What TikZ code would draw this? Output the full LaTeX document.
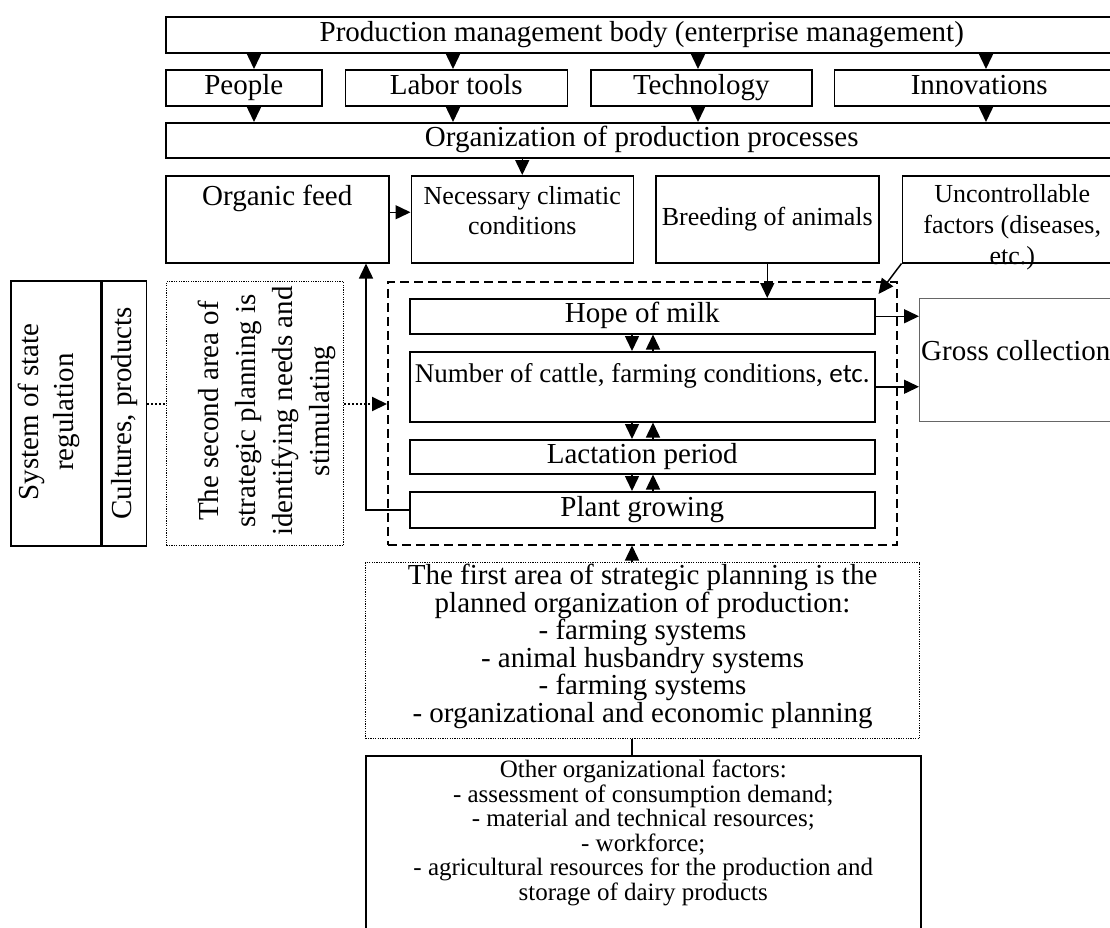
\documentclass[tikz,border=0pt]{standalone}
\usepackage{fontspec}
\setmainfont{Liberation Serif}
\newfontfamily\etcfont{Carlito}
\usetikzlibrary{arrows.meta,positioning}

\newcommand\bigsize{\fontsize{29}{33}\selectfont}
\newcommand\midsize{\fontsize{26}{30}\selectfont}
\newcommand\lowsize{\fontsize{25}{24.5}\selectfont}

\tikzset{
  blk/.style={draw,line width=1.5pt,inner sep=0pt,align=center,font=\bigsize,anchor=north west},
  one/.style={text height=20pt,text depth=7pt},
  txt/.style={inner sep=0pt,align=center,font=\bigsize},
  dotbox/.style={blk,line width=1.2pt,dash pattern=on 1.2pt off 1.2pt},
  dashbox/.style={blk,dash pattern=on 9pt off 5pt},
  arr/.style={line width=1.5pt,-{Triangle[length=15pt,width=14pt]}},
  dotline/.style={line width=2pt,dash pattern=on 2pt off 2pt},
}

\begin{document}
\begin{tikzpicture}[x=1pt,y=-1pt]
  \useasboundingbox (0,0) rectangle (1110,927);
  %management
  \node[blk,one,minimum width=952pt,minimum height=36pt] (Body) at (165,16) {Production management body (enterprise management)};
  \node[blk,one,minimum width=156pt,minimum height=36pt] (People) at (165,69) {People};
  \node[blk,one,minimum width=222pt,minimum height=36pt,right=22pt of People] (Tools) {Labor tools};
  \node[blk,one,minimum width=221pt,minimum height=36pt,right=22pt of Tools] (Tech) {Technology};
  \node[blk,one,minimum width=290pt,minimum height=36pt,right=21pt of Tech] (Innov) {Innovations};
  \node[blk,one,minimum width=952pt,minimum height=35pt] (Org) at (165,122) {Organization of production processes};
  \foreach \n/\x in {People/254,Tools/453,Tech/698,Innov/986}{
    \coordinate (c) at (\x,0);
    \draw[arr] (Body.south -| c) -- (\n.north -| c);
    \draw[arr] (\n.south -| c) -- (Org.north -| c);
  }

  %conditions
  \node[blk,minimum width=223pt,minimum height=87pt] (Feed) at (165,175) {};
  \node[at=(Feed.north),below=10pt,txt] (FeedTxt) {Organic feed};
  \node[blk,minimum width=222pt,minimum height=87pt,right=21pt of Feed] (Clim) {};
  \node[at=(Clim.north),below=11pt,txt,font=\midsize] (ClimTxt) {Necessary climatic\\conditions};
  \node[blk,minimum width=223pt,minimum height=87pt,right=21pt of Clim,font=\midsize] (Breed) {Breeding of animals};
  \node[blk,minimum width=220pt,minimum height=87pt,right=22pt of Breed] (Unc) {};
  \node[at=(Unc.north),below=9pt,txt,font=\fontsize{26}{31}\selectfont] (UncTxt) {Uncontrollable\\factors (diseases,\\etc.)};
  \draw[arr] (Org.south -| Clim) -- (Clim.north);
  \draw[arr] ([yshift=7pt]Feed.east) -- ([yshift=7pt]Feed.east -| Clim.west);

  %left
  \node[blk,minimum width=90pt,minimum height=265pt] (StateL) at (10,280) {};
  \node[blk,minimum width=44pt,minimum height=265pt,right=0pt of StateL] (StateR) {};
  \node[txt,rotate=90,font=\fontsize{29}{35}\selectfont] (StateTxt) at (49,412) {System of state\\regulation};
  \node[txt,rotate=90] (CultTxt) at (StateR) {Cultures, products};
  \node[dotbox,minimum width=177pt,minimum height=264pt] (Second) at (166,281) {};
  \node[txt,rotate=90,font=\fontsize{29}{37}\selectfont] (SecondTxt) at (267,411) {The second area of\\strategic planning is\\identifying needs and\\stimulating};

  %dairy block
  \node[dashbox,minimum width=509pt,minimum height=263pt] (Dash) at (387,281) {};
  \node[blk,one,minimum width=465pt,minimum height=35pt] (Hope) at (409,298) {Hope of milk};
  \node[blk,minimum width=465pt,minimum height=70pt] (Cattle) at (409,351) {};
  \node[at=(Cattle.north),below=12pt,txt,font=\fontsize{27}{30}\selectfont] (CattleTxt) {Number of cattle, farming conditions, {\etcfont etc.}};
  \node[blk,one,minimum width=465pt,minimum height=34pt] (Lact) at (409,439) {Lactation period};
  \node[blk,one,minimum width=465pt,minimum height=36pt] (Plant) at (409,491) {Plant growing};
  \coordinate (Dn) at (632,0);
  \coordinate (Up) at (653,0);
  \foreach \a/\b in {Hope/Cattle,Cattle/Lact,Lact/Plant}{
    \draw[arr] (\a.south -| Dn) -- (\b.north -| Dn);
    \draw[arr] (\b.north -| Up) -- (\a.south -| Up);
  }
  \draw[arr] (Breed.south) -- (Breed.south |- Hope.north);
  \draw[arr] (Unc.south west) -- ([xshift=3pt,yshift=4pt]Hope.north east);

  %output
  \node[blk,draw=black!60,line width=1pt,minimum width=198pt,minimum height=123pt] (Gross) at (919,298) {};
  \node[at=(Gross.west),right=2pt,yshift=9pt,txt] (GrossTxt) {Gross collection};
  \draw[arr] (Hope.east) -- (Hope.east -| Gross.west);
  \draw[arr] (Cattle.east) -- (Cattle.east -| Gross.west);

  %links
  \coordinate (Lvl) at (0,404);
  \coordinate (Loop) at (366,0);
  \draw[dotline] (StateR.east |- Lvl) -- (Second.west |- Lvl);
  \draw[dotline,-{Triangle[length=15pt,width=14pt]}] (Second.east |- Lvl) -- (Dash.west |- Lvl);
  \draw[arr] (Plant.west) -- (Plant.west -| Loop) -- (Loop |- Feed.south);

  %planning
  \node[dotbox,minimum width=554pt,minimum height=176pt] (First) at (365,562) {};
  \node[txt,font=\fontsize{29}{27.5}\selectfont] (FirstTxt) at ([yshift=4pt]First.center) {The first area of strategic planning is the\\planned organization of production:\\- farming systems\\- animal husbandry systems\\- farming systems\\- organizational and economic planning};
  \draw[arr] (First.north -| Dn) -- (Dash.south -| Dn);
  \node[blk,minimum width=555pt,minimum height=220pt] (Other) at (365,755) {};
  \node[at=(Other.north),below=5pt,txt,font=\lowsize] (OtherTxt) {Other organizational factors:\\- assessment of consumption demand;\\- material and technical resources;\\- workforce;\\- agricultural resources for the production and\\storage of dairy products};
  \draw[line width=1.5pt] (First.south -| Dn) -- (Other.north -| Dn);
\end{tikzpicture}
\end{document}
